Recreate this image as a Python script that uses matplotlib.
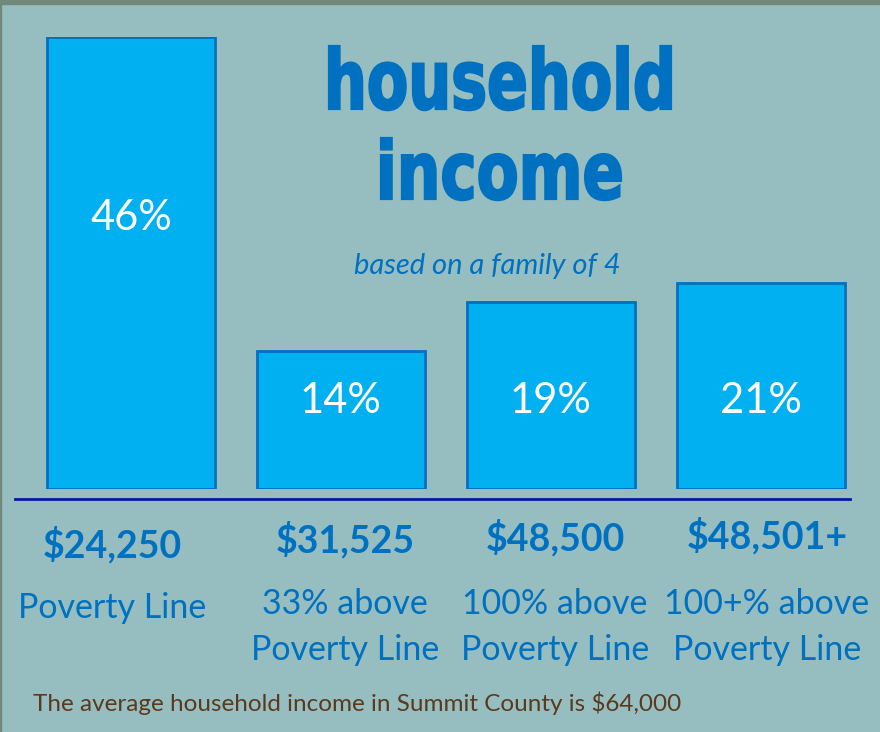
import matplotlib
matplotlib.use('Agg')
import matplotlib.pyplot as plt
from matplotlib.patches import Rectangle, PathPatch
from matplotlib.textpath import TextPath
from matplotlib.font_manager import FontProperties
from matplotlib.transforms import Affine2D

# data
shares = [46, 14, 19, 21]
incomes = ['$24,250', '$31,525', '$48,500', '$48,501+']
levels = ['Poverty Line', '33% above\nPoverty Line', '100% above\nPoverty Line', '100+% above\nPoverty Line']
title_lines = ['household', 'income']
subtitle = 'based on a family of 4'
note = 'The average household income in Summit County is $64,000'

bg = '#96bec0'
fill = '#00b0f0'
edge = '#0070c0'
dark_blue = '#0070c0'

W, H = 880, 732
fig = plt.figure(figsize=(W / 100, H / 100), dpi=100)
fig.patch.set_facecolor(bg)

# thin frame on top / left like the slide
fig.patches.append(Rectangle((0, 1 - 4 / H), 1, 4 / H, transform=fig.transFigure,
                             color='#72897a', zorder=0))
fig.patches.append(Rectangle((0, 0), 1.2 / W, 1, transform=fig.transFigure,
                             color='#72897a', zorder=0))

# bar axes: bottom at y=489 px, 46% reaches y=37 px
ax = fig.add_axes([15 / W, (H - 489) / H, 835 / W, 452 / H])
ax.set_facecolor('none')
x = list(range(len(shares)))
ax.bar(x, shares, width=0.8, color=fill, edgecolor=edge, linewidth=2)
ax.set_xlim(-0.552, 3.424)
ax.set_ylim(0, 46)
ax.axis('off')
ax.axhline(-1.0, xmin=0, xmax=1, color='#0a14a8', lw=2, clip_on=False)

font = ['Lato', 'DejaVu Sans']
for i, v in enumerate(shares):
    y = v * 0.6 if v > 30 else 9.0
    ax.text(i, y, f'{v}%', ha='center', va='center', color='white',
            fontsize=30, family=font)

def fy(py):
    return 1 - py / H

centers = [112, 345, 555, 767]
dollar_y = [545, 540, 538, 536]
for i, (inc, lev) in enumerate(zip(incomes, levels)):
    fig.text(centers[i] / W, fy(dollar_y[i]), inc, ha='center', va='center',
             color=dark_blue, fontsize=27, fontweight='bold', family=font)
    rows = lev.split('\n')
    ys = [608] if len(rows) == 1 else [604, 650]
    for r, yy in zip(rows, ys):
        fig.text(centers[i] / W, fy(yy), r, ha='center', va='center',
                 color=dark_blue, fontsize=24.5, family=font)

# condensed heavy title: text path squeezed into its box (pixel coords)
fp = FontProperties(family='DejaVu Sans', weight='bold')
boxes = [(329, 671, 46, 109), (381, 621, 138, 199)]  # x0, x1, top, baseline
for txt, (x0, x1, top, base) in zip(title_lines, boxes):
    tp = TextPath((0, 0), txt, size=100, prop=fp)
    ext = tp.get_extents()
    sx = (x1 - x0) / ext.width
    sy = (base - top) / ext.y1
    tr = Affine2D().translate(-ext.x0, 0).scale(sx / W, sy / H).translate(x0 / W, fy(base))
    fig.patches.append(PathPatch(tr.transform_path(tp), transform=fig.transFigure,
                                 facecolor=dark_blue, edgecolor=dark_blue, lw=1.6))

fig.text(487 / W, fy(266), subtitle, ha='center', va='center', color=dark_blue,
         fontsize=21, style='italic', family=font)
fig.text(33 / W, fy(703), note, ha='left', va='center', color='#5a3a1e',
         fontsize=17.5, family=font)

fig.savefig('out.png', dpi=100, facecolor=fig.get_facecolor())
